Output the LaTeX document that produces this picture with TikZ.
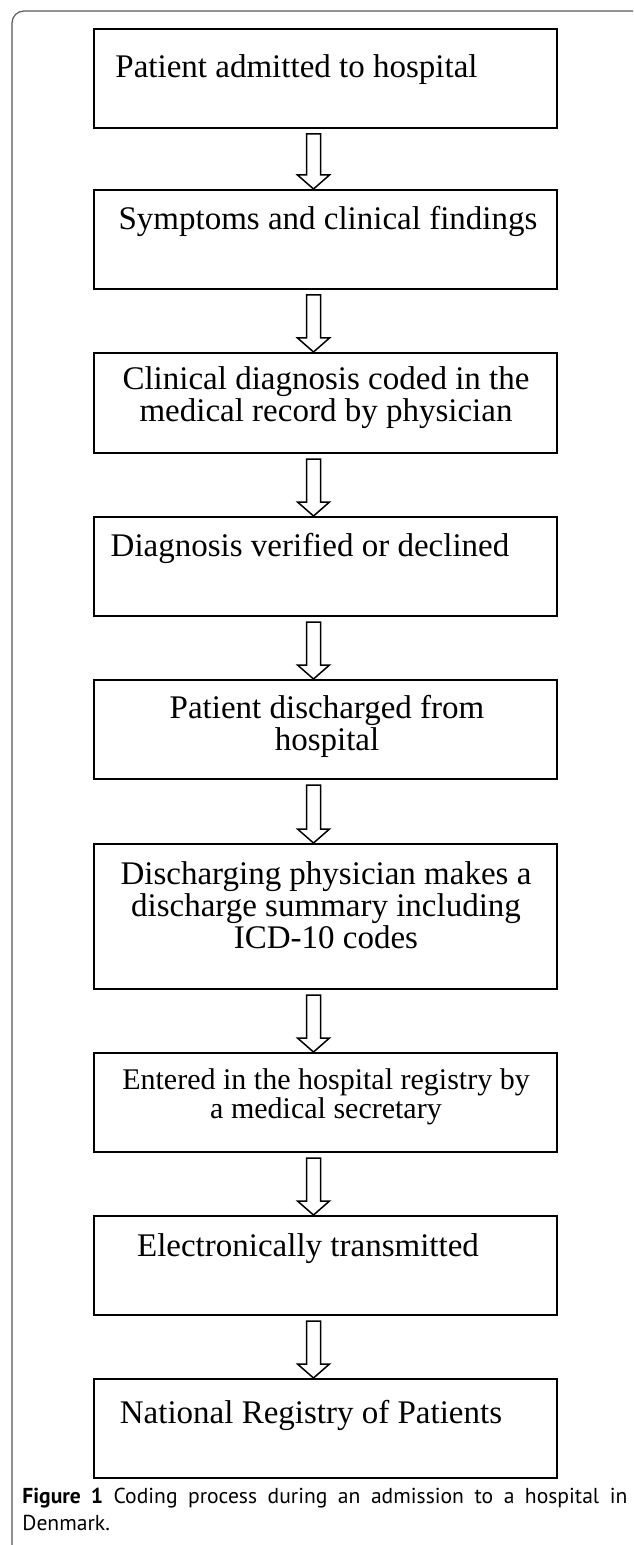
\documentclass[tikz,border=0pt]{standalone}
\usepackage{fontspec}
\setmainfont{Liberation Serif}
\newfontfamily\capfont{PT Sans}
\usetikzlibrary{calc, positioning}
\tikzset{
  stepbox/.style={rectangle, draw=black, line width=1pt, minimum width=231.5pt,
                  minimum height=49.5pt, inner sep=0pt, anchor=north},
  steptext/.style={anchor=base, align=center, inner sep=0pt,
                   font=\fontsize{16.5pt}{16pt}\selectfont},
  smalltext/.style={steptext, font=\fontsize{15pt}{14.5pt}\selectfont},
  hollow/.style={draw=black, line width=0.75pt, fill=white, line join=miter},
  frame/.style={draw=black!65, line width=0.6pt, rounded corners=6pt},
  capnode/.style={anchor=base west, inner sep=0pt, text width=302.5pt,
                  align=justify, font=\capfont\fontsize{10.8pt}{13.5pt}\selectfont},
}

\begin{document}
\begin{tikzpicture}[x=0.5pt, y=-0.5pt]   % one unit = one pixel of the figure

  \useasboundingbox (0,0) rectangle (633,1545);

  %% -- Outer frame (runs off the right and bottom edge) --------------------
  \begin{scope}
    \clip (0,0) rectangle (633,1545);
    \draw[frame] (12,11) rectangle (680,1600);
  \end{scope}

  %% -- Step boxes ------------------------------------------------------------
  \node[stepbox]                       (s1) at (325.5,28)   {};
  \node[stepbox]                       (s2) at (325.5,189)  {};
  \node[stepbox, minimum height=50pt]  (s3) at (325.5,352)  {};
  \node[stepbox]                       (s4) at (325.5,516)  {};
  \node[stepbox]                       (s5) at (325.5,679)  {};
  \node[stepbox, minimum height=72.5pt](s6) at (325.5,843)  {};
  \node[stepbox]                       (s7) at (325.5,1052) {};
  \node[stepbox]                       (s8) at (325.5,1215) {};
  \node[stepbox]                       (s9) at (325.5,1378) {};

  %% -- Box texts (base = last line; they sit in the upper part of each box) --
  \node[steptext]  (t1) at (296.5,78)  {Patient admitted to hospital};
  \node[steptext]  (t2) at (328,230)   {Symptoms and clinical findings};
  \node[steptext]  (t3) at (326,422)   {Clinical diagnosis coded in the\\ medical record by physician};
  \node[steptext]  (t4) at (310,556)   {Diagnosis verified or declined};
  \node[steptext]  (t5) at (327,750)   {Patient discharged from\\ hospital};
  \node[steptext]  (t6) at (326,948)   {Discharging physician makes a\\ discharge summary including\\ ICD-10 codes};
  \node[smalltext] (t7) at (326,1118)  {Entered in the hospital registry by\\ a medical secretary};
  \node[steptext]  (t8) at (308,1256)  {Electronically transmitted};
  \node[steptext]  (t9) at (311,1423)  {National Registry of Patients};

  %% -- Hollow block arrows between the boxes ---------------------------------
  \foreach \a/\b in {s1/s2, s2/s3, s3/s4, s4/s5, s5/s6, s6/s7, s7/s8, s8/s9}
    \draw[hollow] let \p1=($(\a.south)+(-12,5)$), \p2=($(\b.north)+(-12,0)$) in
      (\x1-3.5pt,\y1) -- (\x1+3.5pt,\y1) -- (\x1+3.5pt,\y2+7pt) -- (\x1+8pt,\y2+7pt)
      -- (\x1,\y2) -- (\x1-8pt,\y2+7pt) -- (\x1-3.5pt,\y2+7pt) -- cycle;

  %% -- Caption ---------------------------------------------------------------
  \node[capnode] (cap) at (22,1503)
    {\textbf{Figure 1} Coding process during an admission to a hospital in\linebreak Denmark.};

\end{tikzpicture}
\end{document}
